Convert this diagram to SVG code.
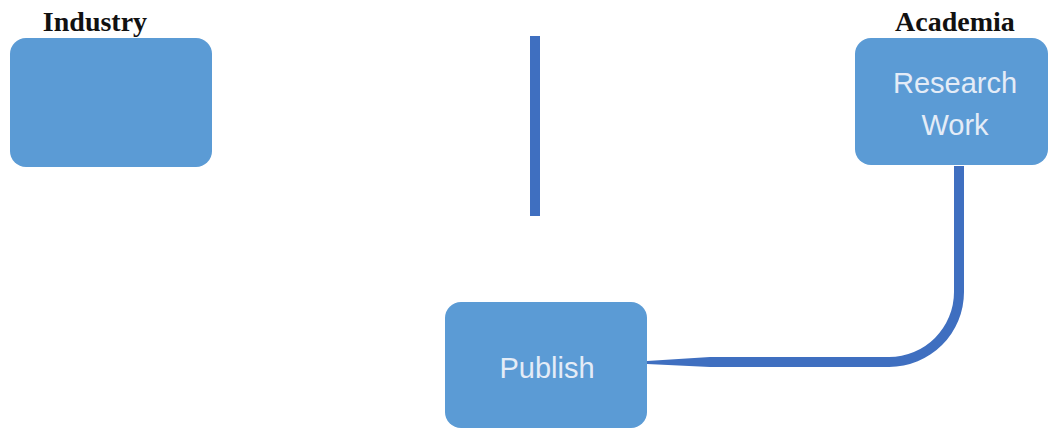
<svg xmlns="http://www.w3.org/2000/svg" width="1049" height="430" viewBox="0 0 1049 430">
  <style>
    .box { fill: #5B9BD5; }
    .head { font-family: "Liberation Serif", "Times New Roman", serif; font-weight: bold; font-size: 28px; fill: #111; text-anchor: middle; }
    .label { font-family: "Liberation Sans", Arial, sans-serif; font-size: 29px; fill: #E4ECF7; text-anchor: middle; }
    .link { fill: #3F6FC0; }
  </style>
  <rect width="1049" height="430" fill="#FFFFFF"/>

  <!-- column headings -->
  <text class="head" x="95" y="31">Industry</text>
  <text class="head" x="955" y="31">Academia</text>

  <!-- connectors -->
  <g id="connectors">
    <rect class="link" x="530" y="36" width="10" height="180"/>
    <path class="link" d="M 647 361 L 710 357 H 889 A 65 65 0 0 0 954 292 V 166 H 964 V 292 A 75 75 0 0 1 889 367 H 710 L 647 364 Z"/>
  </g>

  <g id="industry">
    <rect class="box" x="10" y="38" width="202" height="129" rx="16"/>
  </g>

  <g id="research-work">
    <rect class="box" x="855" y="38" width="193" height="127" rx="16"/>
    <text class="label" x="955" y="93">Research</text>
    <text class="label" x="955" y="135">Work</text>
  </g>

  <g id="publish">
    <rect class="box" x="445" y="302" width="202" height="126" rx="16"/>
    <text class="label" x="547" y="378">Publish</text>
  </g>
</svg>
